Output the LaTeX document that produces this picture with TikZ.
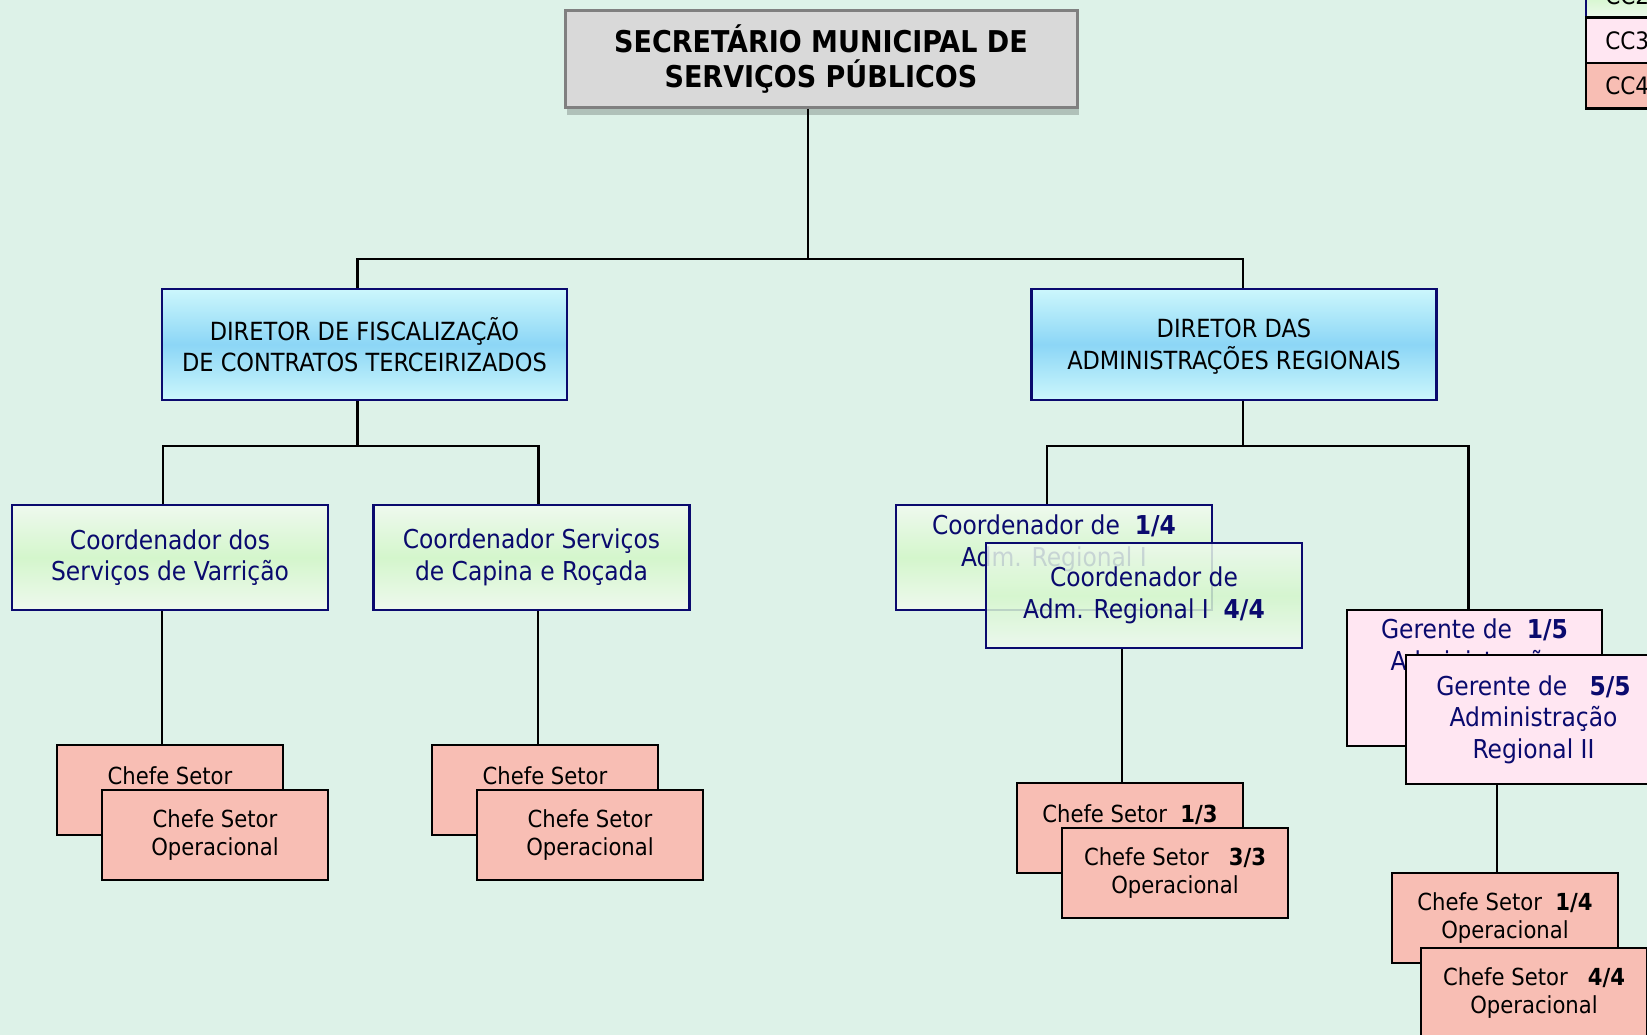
\documentclass[tikz,border=0pt]{standalone}
\usepackage{fontspec}
\setmainfont{DejaVu Sans Condensed}[BoldFont={DejaVu Sans Condensed Bold}]
\usetikzlibrary{shadows}
\definecolor{bgmint}{RGB}{221,242,232}
\definecolor{navy}{RGB}{10,10,110}
\definecolor{secgray}{RGB}{217,217,217}
\definecolor{secline}{RGB}{128,128,128}
\definecolor{dirout}{RGB}{204,247,252}
\definecolor{dirmid}{RGB}{140,214,246}
\definecolor{crdout}{RGB}{238,249,238}
\definecolor{crdin}{RGB}{212,246,204}
\definecolor{gerpink}{RGB}{255,230,242}
\definecolor{chsalmon}{RGB}{248,190,180}
\newcommand{\fr}[1]{\textbf{#1}}
\tikzset{
    sec/.style={draw=secline, line width=3pt, fill=secgray, minimum width=512pt, minimum height=97pt, align=center, font=\fontsize{30}{35}\selectfont\bfseries, drop shadow={shadow xshift=2pt, shadow yshift=-8pt, fill=black, opacity=0.2}},
    dir/.style={draw=navy, line width=2.4pt, top color=dirout, bottom color=dirout, middle color=dirmid, minimum width=405pt, minimum height=111pt, align=center, font=\fontsize{25}{31.5}\selectfont},
    crd/.style={draw=navy, line width=2.4pt, top color=crdout, bottom color=crdout, middle color=crdin, minimum width=316pt, minimum height=105pt, align=center, text=navy, font=\fontsize{26}{31.5}\selectfont},
    crdtxt/.style={align=center, text=navy, font=\fontsize{26}{31.5}\selectfont},
    ger/.style={draw=black, line width=2.5pt, fill=gerpink, minimum width=255pt, align=center, text=navy, font=\fontsize{26}{31.5}\selectfont},
    chefe/.style={draw=black, line width=2.5pt, fill=chsalmon, minimum width=226pt, minimum height=90pt, align=center, font=\fontsize{23.5}{28.5}\selectfont},
    chtxt/.style={align=center, font=\fontsize{23.5}{28.5}\selectfont},
    lgbox/.style={draw=black, line width=2.5pt, minimum width=124pt, minimum height=45.5pt},
    lgtxt/.style={anchor=west, font=\fontsize{24}{28}\selectfont},
    lnk/.style={draw=black, line width=2.3pt}
}
\begin{document}
\begin{tikzpicture}[x=1pt, y=-1pt]
\useasboundingbox (0,0) rectangle (1647,1035);
\clip (0,0) rectangle (1647,1035);
\fill[bgmint] (0,0) rectangle (1647,1035);

% Legend (cut by the page edge)
\node[lgbox, draw=navy, top color=crdout, bottom color=crdout, middle color=crdin] (lgA) at (1648,-4.5) {};
\node[lgbox, fill=gerpink] (lgB) at (1648,40.5) {};
\node[lgbox, fill=chsalmon] (lgC) at (1648,86) {};
\node[lgtxt] at ([xshift=17pt]lgA.west) {CC2};
\node[lgtxt] at ([xshift=17pt]lgB.west) {CC3};
\node[lgtxt] at ([xshift=17pt]lgC.west) {CC4};

% Rank 1
\node[sec] (sec) at (821,59) {SECRETÁRIO MUNICIPAL DE\\SERVIÇOS PÚBLICOS};

% Rank 2
\node[dir] (dirA) at (364.5,344.5) {DIRETOR DE FISCALIZAÇÃO\\DE CONTRATOS TERCEIRIZADOS};
\node[dir] (dirB) at (1234,344.5) {\vphantom{Ã}DIRETOR DAS\\ADMINISTRAÇÕES REGIONAIS};

% Rank 3
\node[crd] (crdA) at (170,557.5) {Coordenador dos\\Serviços de Varrição};
\node[crd] (crdB) at (531.5,557.5) {Coordenador Serviços\\de Capina e Roçada};
\node[crd] (crdC1) at (1054,557.5) {};
\node[crdtxt] at ([yshift=14pt]crdC1.center) {Coordenador de\ \ \fr{1/4}\\Adm. Regional I};
\node[crd, fill opacity=0.85, text opacity=1] (crdC2) at (1144,595.5) {Coordenador de\\Adm. Regional I\ \ \fr{4/4}};
\node[ger, minimum height=136pt] (gerA) at (1474.5,678) {};
\node[crdtxt] at ([yshift=31pt]gerA.center) {Gerente de\ \ \fr{1/5}\\Administração};
\node[ger, minimum height=129pt] (gerB) at (1533.5,719.5) {Gerente de\ \ \ \fr{5/5}\\Administração\\Regional II};

% Rank 4
\node[chefe] (chA1) at (170,790) {};
\node[chtxt] at ([yshift=14pt]chA1.center) {Chefe Setor};
\node[chefe] (chA2) at (215,835) {Chefe Setor\\Operacional};
\node[chefe] (chB1) at (545,790) {};
\node[chtxt] at ([yshift=14pt]chB1.center) {Chefe Setor};
\node[chefe] (chB2) at (590,835) {Chefe Setor\\Operacional};
\node[chefe] (chC1) at (1130,828) {};
\node[chtxt] at ([yshift=13pt]chC1.center) {Chefe Setor\ \ \fr{1/3}};
\node[chefe] (chC2) at (1175,873) {Chefe Setor\ \ \ \fr{3/3}\\Operacional};
\node[chefe] (chD1) at (1505,918) {Chefe Setor\ \ \fr{1/4}\\Operacional};
\node[chefe] (chD2) at (1534,993) {Chefe Setor\ \ \ \fr{4/4}\\Operacional};

% Rank 1 -> 2
\coordinate (jTop) at ([xshift=-13pt, yshift=-150pt]sec.south);
\draw[lnk] ([xshift=-13pt]sec.south) -- (jTop);
\draw[lnk] ([xshift=-7pt]dirA.north) |- (jTop) -| ([xshift=9pt]dirB.north);

% Rank 2 -> 3
\coordinate (jA) at ([xshift=-7pt, yshift=-45pt]dirA.south);
\coordinate (jB) at ([xshift=9pt, yshift=-45pt]dirB.south);
\draw[lnk] ([xshift=-7pt]dirA.south) -- (jA);
\draw[lnk] ([xshift=-7pt]crdA.north) |- (jA) -| ([xshift=7pt]crdB.north);
\draw[lnk] ([xshift=9pt]dirB.south) -- (jB);
\draw[lnk] ([xshift=-7pt]crdC1.north) |- (jB) -| ([xshift=-6pt]gerA.north);

% Rank 3 -> 4
\draw[lnk] ([xshift=-8pt]chA1.north) -- ([xshift=-8pt]chA1.north |- crdA.south);
\draw[lnk] ([xshift=-7pt]chB1.north) -- ([xshift=-7pt]chB1.north |- crdB.south);
\draw[lnk] ([xshift=-8pt]chC1.north) -- ([xshift=-8pt]chC1.north |- crdC2.south);
\draw[lnk] ([xshift=-8pt]chD1.north) -- ([xshift=-8pt]chD1.north |- gerB.south);

\end{tikzpicture}
\end{document}
